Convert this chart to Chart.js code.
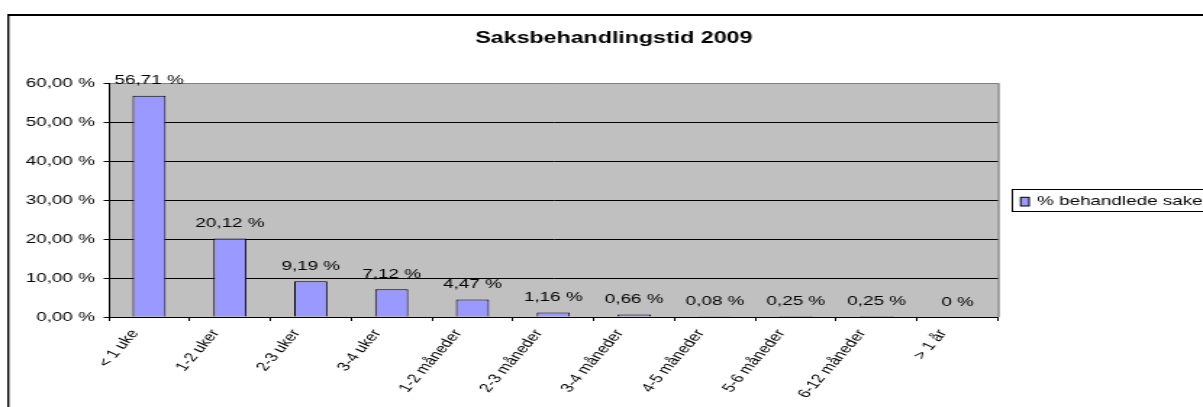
<!DOCTYPE html>
<html>
<head>
<meta charset="utf-8">
<script src="https://cdn.jsdelivr.net/npm/chart.js@4/dist/chart.umd.min.js"></script>
<style>
  body { margin: 0; background: #fff; }
</style>
</head>
<body>
<!-- the source picture is stretched sideways, so the canvas is drawn narrow and widened by css -->
<canvas id="saksChart" width="830" height="407" style="display:block;width:1203px;height:407px"></canvas>
<script>
var tittel = 'Saksbehandlingstid 2009';
var serieNavn = '% behandlede saker';
var kategorier = ['< 1 uke', '1-2 uker', '2-3 uker', '3-4 uker', '1-2 måneder', '2-3 måneder',
    '3-4 måneder', '4-5 måneder', '5-6 måneder', '6-12 måneder', '> 1 år'];
var andel = [56.71, 20.12, 9.19, 7.12, 4.47, 1.16, 0.66, 0.08, 0.25, 0.25, 0];
var y_maks = 60;
var y_steg = 10;

var font_navn = '"Liberation Sans", Arial, sans-serif';

function prosent(v) {
    if (v === 0) return '0 %';
    return v.toFixed(2).replace('.', ',') + ' %';
}

// frame, title, plot background and legend
var ramme = {
    id: 'ramme',
    beforeDraw: function (chart) {
        var c = chart.ctx;
        var a = chart.chartArea;
        c.save();
        c.fillStyle = '#000';
        c.fillRect(5, 14, chart.width, 2);
        c.fillRect(5, 14, 1.4, chart.height);

        c.fillStyle = '#C0C0C0';
        c.fillRect(a.left, a.top, a.right - a.left, a.bottom - a.top);
        c.strokeStyle = '#808080';
        c.lineWidth = 1.4;
        c.beginPath();
        c.moveTo(a.right + 0.5, a.top);
        c.lineTo(a.right + 0.5, a.bottom);
        c.stroke();

        c.fillStyle = '#000';
        c.font = 'bold 16px ' + font_navn;
        c.textAlign = 'center';
        c.textBaseline = 'alphabetic';
        c.fillText(tittel, 423.5, 43);

        // legend (runs off the right edge like in the original)
        c.strokeStyle = '#000';
        c.lineWidth = 1;
        c.strokeRect(698.5, 189.5, 200, 22);
        c.fillStyle = '#9999FF';
        c.fillRect(704.2, 197.3, 5.8, 8.7);
        c.strokeRect(704.2, 197.3, 5.8, 8.7);
        c.fillStyle = '#000';
        c.font = '13px ' + font_navn;
        c.textAlign = 'left';
        c.textBaseline = 'middle';
        c.fillText(serieNavn, 715.5, 201);
        c.restore();
    },
    afterDatasetsDraw: function (chart) {
        var c = chart.ctx;
        var meta = chart.getDatasetMeta(0);
        c.save();
        c.fillStyle = '#000';
        c.font = '13px ' + font_navn;
        c.textAlign = 'center';
        c.textBaseline = 'middle';
        meta.data.forEach(function (bar, i) {
            c.fillText(prosent(andel[i]), bar.x, bar.y - 15);
        });
        c.restore();
    }
};

var chart_saks = new Chart(document.getElementById('saksChart').getContext('2d'), {
    type: 'bar',
    data: {
        labels: kategorier,
        datasets: [{
            label: serieNavn,
            data: andel,
            backgroundColor: '#9999FF',
            borderColor: '#000',
            borderWidth: 1,
            categoryPercentage: 1,
            barPercentage: 0.41
        }]
    },
    options: {
        responsive: false,
        animation: false,
        devicePixelRatio: 1,
        layout: { padding: { top: 83, right: 141.5, left: 0, bottom: 0 } },
        plugins: {
            legend: { display: false },
            title: { display: false },
            tooltip: { enabled: false }
        },
        scales: {
            x: {
                afterFit: function (scale) { scale.height = 90; },
                border: { color: '#000', width: 1 },
                grid: { drawOnChartArea: false, color: '#000', tickLength: 4 },
                ticks: {
                    color: '#000',
                    font: { family: font_navn, size: 12.5 },
                    minRotation: 58,
                    maxRotation: 58,
                    autoSkip: false,
                    labelOffset: -10,
                    padding: 6
                }
            },
            y: {
                min: 0,
                max: y_maks,
                afterFit: function (scale) { scale.width = 75; },
                border: { color: '#000', width: 1 },
                grid: {
                    color: function (ctx) { return ctx.tick && ctx.tick.value === y_maks ? '#808080' : '#000'; },
                    tickColor: '#000',
                    tickLength: 3.5
                },
                ticks: {
                    stepSize: y_steg,
                    color: '#000',
                    padding: 6,
                    font: { family: font_navn, size: 13 },
                    callback: function (v) { return v.toFixed(2).replace('.', ',') + ' %'; }
                }
            }
        }
    },
    plugins: [ramme]
});
</script>
</body>
</html>
